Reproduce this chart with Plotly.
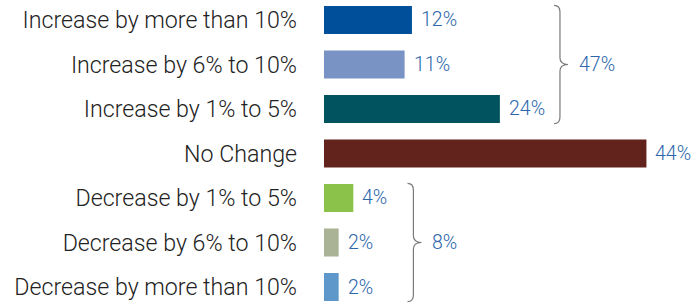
import plotly.graph_objects as go

categories = ["Increase by more than 10%", "Increase by 6% to 10%", "Increase by 1% to 5%",
              "No Change", "Decrease by 1% to 5%", "Decrease by 6% to 10%", "Decrease by more than 10%"]
values = [12, 11, 24, 44, 4, 2, 2]
colors = ["#004F9A", "#7A93C5", "#00535F", "#62231C", "#8BC34A", "#ABB396", "#5E98CB"]
groups = [[0, 1, 2], [4, 5, 6]]

FONT = "Roboto, Liberation Sans, Arial, sans-serif"
VAL_COLOR = "#2C67AC"

idx = list(range(len(categories)))
fig = go.Figure()
fig.add_trace(go.Bar(
    x=values, y=idx, orientation="h", marker=dict(color=colors, line=dict(width=0)),
    width=0.63, hoverinfo="skip",
))

annotations = []
for i, v in zip(idx, values):
    annotations.append(dict(x=v, y=i, xref="x", yref="y", text=f"{v}%", showarrow=False,
                            xanchor="left", yanchor="middle", xshift=7,
                            font=dict(family=FONT, size=19.5, color=VAL_COLOR, weight=300)))

shapes = []
half = 0.33
c = 0.15
for g in groups:
    gmax = max(values[k] for k in g)
    x0 = gmax + 7.4
    xv = x0 + 0.8
    xt = x0 + 1.9
    y0 = g[0] - half
    y1 = g[-1] + half
    ym = (g[0] + g[-1]) / 2
    path = (f"M {x0},{y0} Q {xv},{y0} {xv},{y0 + c} L {xv},{ym - c} Q {xv},{ym} {xt},{ym} "
            f"Q {xv},{ym} {xv},{ym + c} L {xv},{y1 - c} Q {xv},{y1} {x0},{y1}")
    shapes.append(dict(type="path", path=path, xref="x", yref="y",
                       line=dict(color="#7A7A7A", width=1.2)))
    total = sum(values[k] for k in g)
    annotations.append(dict(x=xt, y=ym, xref="x", yref="y", text=f"{total}%", showarrow=False,
                            xanchor="left", yanchor="middle", xshift=9,
                            font=dict(family=FONT, size=19.5, color=VAL_COLOR, weight=300)))

fig.update_layout(
    width=697, height=304,
    margin=dict(l=324, r=0, t=0, b=0),
    paper_bgcolor="white", plot_bgcolor="white",
    showlegend=False,
    xaxis=dict(range=[0, 50.9], visible=False, showgrid=False, zeroline=False),
    yaxis=dict(range=[6.382, -0.449], tickmode="array", tickvals=idx, ticktext=categories,
               showgrid=False, zeroline=False, showline=False, ticks="",
               ticklabelstandoff=26, automargin=False,
               tickfont=dict(family=FONT, size=23.2, color="#222222", weight=300)),
    annotations=annotations,
    shapes=shapes,
)

fig.write_html("out.html", config={"displayModeBar": False},
               post_script="document.body.style.margin='0';document.body.style.padding='0';")
